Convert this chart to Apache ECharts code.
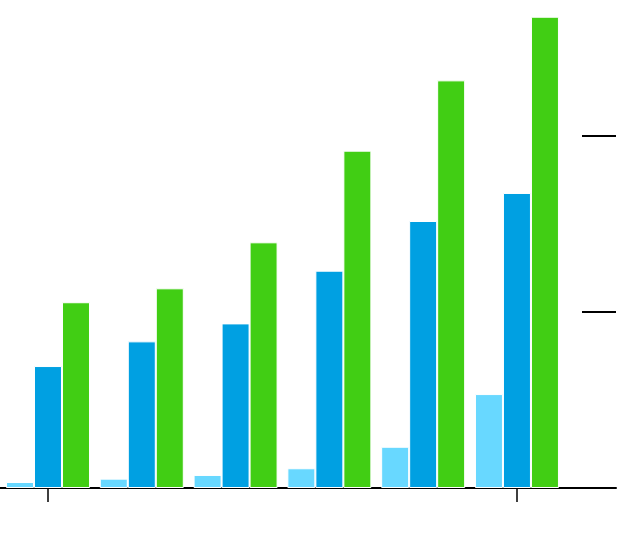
<!DOCTYPE html>
<html>
<head>
<meta charset="utf-8">
<script src="https://cdn.jsdelivr.net/npm/echarts@6/dist/echarts.min.js"></script>
<style>html,body{margin:0;padding:0;background:#fff}#c{width:640px;height:550px}</style>
</head>
<body>
<div id="c"></div>
<script>
var groups = [0, 1, 2, 3, 4, 5];
var seriesA = [3.4, 5.3, 7.4, 11.2, 23.4, 53.3];
var seriesB = [69.2, 83.2, 93.4, 123.3, 151.5, 167.4];
var seriesC = [105.4, 113.3, 139.4, 191.4, 231.3, 267.4];
var xTickValues = [0, 5];
var yTickValues = [100, 200];

function pairs(vals){ return groups.map(function(g,i){ return [g, vals[i]]; }); }

var chart = echarts.init(document.getElementById('c'), null, {renderer:'canvas'});
var barCommon = { type:'bar', barWidth:28, barGap:'0%', animation:false };
chart.setOption({
  animation:false,
  backgroundColor:'#ffffff',
  grid:{left:0, right:24, top:0, bottom:62},
  xAxis:{
    type:'value', min:-0.5117, max:6.056,
    axisLine:{show:true, onZero:false, lineStyle:{color:'#000', width:2}},
    axisTick:{show:true, customValues:xTickValues, length:14, lineStyle:{color:'#000', width:1.5}},
    axisLabel:{show:false},
    splitLine:{show:false}
  },
  yAxis:{
    type:'value', position:'right', min:0, max:276.9,
    axisLine:{show:false, onZero:false},
    axisTick:{show:true, inside:true, customValues:yTickValues, length:34, lineStyle:{color:'#000', width:2}},
    axisLabel:{show:false},
    splitLine:{show:false}
  },
  series:[
    Object.assign({}, barCommon, {name:'A', data:pairs(seriesA), itemStyle:{color:'#68D8FF', borderColor:'#fff', borderWidth:1}}),
    Object.assign({}, barCommon, {name:'B', data:pairs(seriesB), itemStyle:{color:'#00A0E2', borderColor:'#fff', borderWidth:1}}),
    Object.assign({}, barCommon, {name:'C', data:pairs(seriesC), itemStyle:{color:'#41CE14', borderColor:'#fff', borderWidth:1}})
  ]
});
</script>
</body>
</html>
